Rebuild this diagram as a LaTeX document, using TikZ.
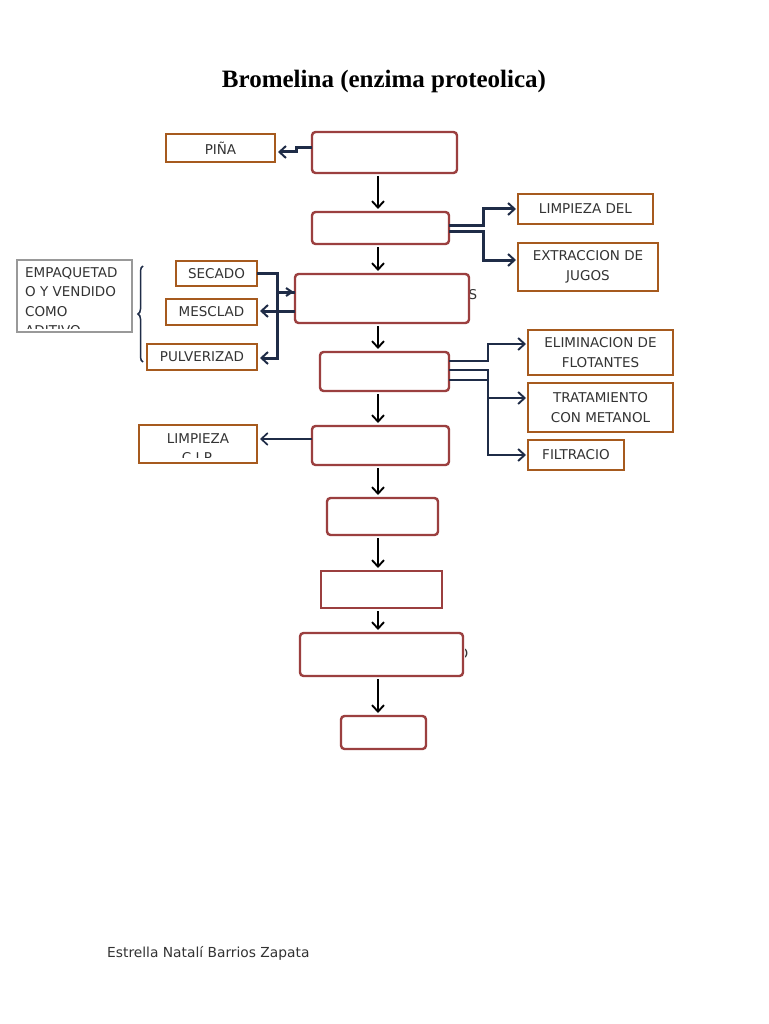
\documentclass[tikz,border=0pt]{standalone}
\usepackage{fontspec}
\setmainfont{DejaVu Sans}
\newfontfamily\titlefont{Liberation Serif}
\usetikzlibrary{arrows.meta,decorations.pathreplacing,calc}
\definecolor{mainb}{HTML}{9B3F3F}
\definecolor{sideb}{HTML}{A65A1E}
\definecolor{navy}{HTML}{1F2C47}
\definecolor{txt}{HTML}{333333}
\begin{document}
\begin{tikzpicture}[x=1pt,y=-1pt,
  mainbox/.style={draw=mainb,line width=2.4pt,rounded corners=3.5pt,inner sep=0pt,outer sep=0pt,fill=white},
  sidebox/.style={draw=sideb,line width=2.8pt,inner sep=0pt,outer sep=0pt,text=txt,align=center,
     font=\fontsize{13.5}{19.5}\selectfont},
  flow/.style={draw=black,line width=2.2pt,-{Straight Barb[length=6.5pt,width=12pt,line width=1.9pt]}},
  link/.style={draw=navy,line width=3pt,-{Straight Barb[length=6.5pt,width=12pt,line width=2pt]}},
  thinlink/.style={draw=navy,line width=2.2pt,-{Straight Barb[length=6.5pt,width=12pt,line width=1.9pt]}},
  frag/.style={text=txt,font=\fontsize{13.5}{15}\selectfont,inner sep=0pt},
  cliptext/.style={text=txt,font=\fontsize{13.5}{15}\selectfont,inner sep=0pt}]
\useasboundingbox (0,0) rectangle (768,1024);
\fill[white] (0,0) rectangle (768,1024);

% title
\node[font=\titlefont\bfseries\fontsize{25}{29}\selectfont] (title) at (384,81) {Bromelina (enzima proteolica)};

% fragments of overflowing texts
\node[frag] (fragS) at (473,295) {S};
\begin{scope}
\clip (465,640) rectangle (475,670);
\node[frag] (fragO) at (463,654) {O};
\end{scope}

% main column
\node[mainbox,minimum width=145pt,minimum height=41pt] (b1) at (384.5,152.5) {};
\node[mainbox,minimum width=137pt,minimum height=32pt] (b2) at (380.5,228) {};
\node[mainbox,minimum width=174pt,minimum height=49pt] (b3) at (382,298.5) {};
\node[mainbox,minimum width=129pt,minimum height=39pt] (b4) at (384.5,371.5) {};
\node[mainbox,minimum width=137pt,minimum height=39pt] (b5) at (380.5,445.5) {};
\node[mainbox,minimum width=111pt,minimum height=37pt] (b6) at (382.5,516.5) {};
\node[mainbox,rounded corners=0pt,minimum width=121pt,minimum height=37pt] (b7) at (381.5,589.5) {};
\node[mainbox,minimum width=163pt,minimum height=43pt] (b8) at (381.5,654.5) {};
\node[mainbox,minimum width=85pt,minimum height=33pt] (b9) at (383.5,732.5) {};

% side boxes
\node[sidebox,minimum width=109pt,minimum height=28pt] (pina) at (220.5,148) {PIÑA};
\node[sidebox,minimum width=135pt,minimum height=30pt] (limp) at (585.5,209) {LIMPIEZA DEL};
\node[sidebox,minimum width=140pt,minimum height=48pt] (extr) at (588,267) {EXTRACCION DE\\JUGOS};
\node[sidebox,minimum width=81pt,minimum height=25pt] (sec) at (216.5,273.5) {SECADO};
\node[sidebox,minimum width=91pt,minimum height=26pt] (mes) at (211.5,312) {MESCLAD};
\node[sidebox,minimum width=110pt,minimum height=26pt] (pul) at (202,357) {PULVERIZAD};
\node[sidebox,minimum width=145pt,minimum height=45pt] (elim) at (600.5,352.5) {ELIMINACION DE\\FLOTANTES};
\node[sidebox,minimum width=145pt,minimum height=49pt] (trat) at (600.5,407.5) {TRATAMIENTO\\CON METANOL};
\node[sidebox,minimum width=96pt,minimum height=30pt] (fil) at (576,455) {FILTRACIO};
\node[sidebox,minimum width=118pt,minimum height=38pt] (cip) at (198,444) {};
\begin{scope}
\clip (141,427) rectangle (255,457);
\node[cliptext,anchor=base] (cipa) at (198,443) {LIMPIEZA};
\node[cliptext,anchor=base] (cipb) at (198,462.5) {C.I.P.};
\end{scope}

% packaging box (gray, clipped text)
\node[draw=gray!80,line width=1.2pt,minimum width=115pt,minimum height=72pt,inner sep=0pt] (emp) at (74.5,296) {};
\begin{scope}
\clip (18,261) rectangle (131,328);
\node[cliptext,anchor=base west] (e1) at (25,277) {EMPAQUETAD};
\node[cliptext,anchor=base west] (e2) at (25,296.5) {O Y VENDIDO};
\node[cliptext,anchor=base west] (e3) at (25,316) {COMO};
\node[cliptext,anchor=base west] (e4) at (25,335.5) {ADITIVO};
\end{scope}

% brace
\coordinate (brb) at (143,362);
\coordinate (brt) at (143,266);
\draw[navy,line width=1.5pt,decorate,decoration={brace,amplitude=5pt}] (brb) -- (brt);

% main flow arrows
\coordinate (ax) at (378,0);
\foreach \a/\b in {b1/b2,b2/b3,b3/b4,b4/b5,b5/b6,b6/b7,b7/b8,b8/b9}
  \draw[flow,shorten <=3pt,shorten >=3pt] (ax |- \a.south) -- (ax |- \b.north);

% PIÑA
\coordinate (p1) at (296,148);
\coordinate (p2) at (296,152);
\draw[link] (b1.west |- p1) -- (p1) -- (p2) -- ([xshift=3pt]pina.east |- p2);

% from b2
\coordinate (c1) at (483,226);
\coordinate (c2) at (483,232);
\draw[link] (b2.east |- c1) -- (c1) |- ([xshift=-2pt]limp.west);
\draw[link] (b2.east |- c2) -- (c2) |- ([xshift=-2pt]extr.west |- 0,260);

% left of b3
\coordinate (s1) at (277,273);
\coordinate (s2) at (277,358);
\draw[link] (sec.east |- s1) -- (s1) -- (s2) -- ([xshift=3pt]pul.east |- s2);
\coordinate (st) at (277,292);
\draw[navy,line width=3pt] (st) -- (b3.west |- st);
\draw[navy,line width=2pt] (286,288) -- (292,292) -- (286,296);
\draw[link] (b3.west |- 0,311) -- ([xshift=3pt]mes.east |- 0,311);

% from b4
\coordinate (d1) at (488,361);
\coordinate (d2) at (488,370);
\coordinate (d3) at (488,380);
\draw[thinlink] (b4.east |- d1) -- (d1) |- ([xshift=-2pt]elim.west |- 0,344);
\draw[thinlink] (b4.east |- d2) -- (d2) |- ([xshift=-2pt]fil.west);
\draw[thinlink] (b4.east |- d3) -- (d3) |- ([xshift=-2pt]trat.west |- 0,398);

% from b5
\draw[draw=navy,line width=1.7pt,-{Straight Barb[length=6.5pt,width=12pt,line width=1.7pt]}] (b5.west |- 0,439) -- ([xshift=3pt]cip.east |- 0,439);

% footer
\node[text=txt,font=\fontsize{13.8}{16}\selectfont,anchor=west,inner sep=0pt] (author) at (107,953) {Estrella Natalí Barrios Zapata};
\end{tikzpicture}
\end{document}
